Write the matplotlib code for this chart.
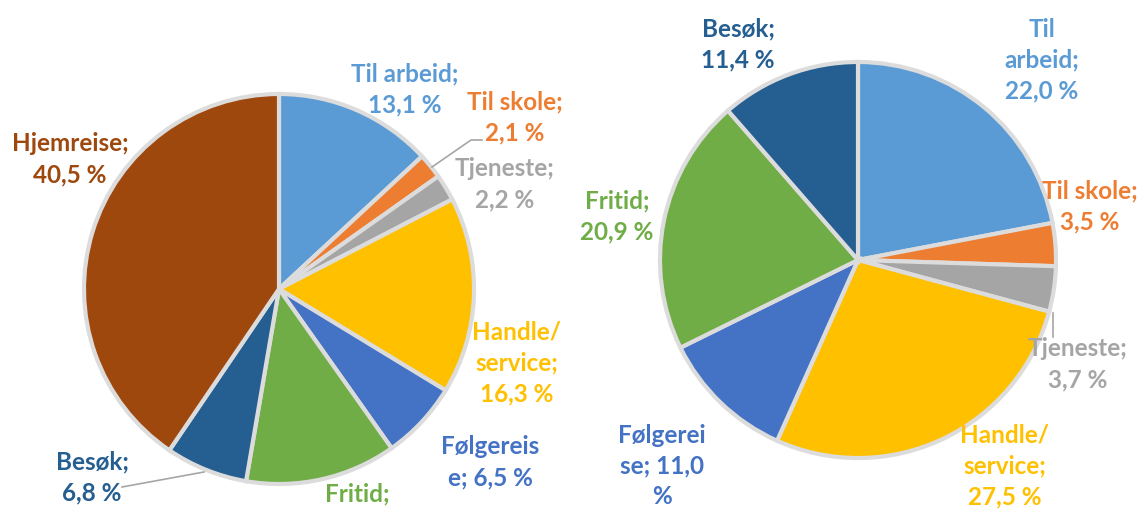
import matplotlib.pyplot as plt

# left pie
left_names = ['Til arbeid', 'Til skole', 'Tjeneste', 'Handle/service', 'Følgereise',
              'Fritid', 'Besøk', 'Hjemreise']
left_vals = [13.1, 2.1, 2.2, 16.3, 6.5, 12.5, 6.8, 40.5]
left_labels = ['Til arbeid;\n13,1 %', 'Til skole;\n2,1 %', 'Tjeneste;\n2,2 %',
               'Handle/\nservice;\n16,3 %', 'Følgereis\ne; 6,5 %', 'Fritid;\n12,5 %',
               'Besøk;\n6,8 %', 'Hjemreise;\n40,5 %']

# right pie
right_names = ['Til arbeid', 'Til skole', 'Tjeneste', 'Handle/service', 'Følgereise',
               'Fritid', 'Besøk']
right_vals = [22.0, 3.5, 3.7, 27.5, 11.0, 20.9, 11.4]
right_labels = ['Til\narbeid;\n22,0 %', 'Til skole;\n3,5 %', 'Tjeneste;\n3,7 %',
                'Handle/\nservice;\n27,5 %', 'Følgerei\nse; 11,0\n%', 'Fritid;\n20,9 %',
                'Besøk;\n11,4 %']

colors = {'Til arbeid': '#5B9BD5', 'Til skole': '#ED7D31', 'Tjeneste': '#A5A5A5',
          'Handle/service': '#FFC000', 'Følgereise': '#4472C4', 'Fritid': '#70AD47',
          'Besøk': '#255E91', 'Hjemreise': '#9E480E'}

W, H = 1141, 509
fig = plt.figure(figsize=(W / 100, H / 100), dpi=100)
ax = fig.add_axes([0, 0, 1, 1])

wp = dict(edgecolor='#DCDCDC', linewidth=3)

ax.pie(left_vals, colors=[colors[n] for n in left_names], startangle=90, counterclock=False,
       center=(279, H - 289), radius=195, explode=[0.03, 0.03, 0.03, 0.045, 0, 0, 0, 0.015],
       wedgeprops=wp, frame=False)
ax.pie(right_vals, colors=[colors[n] for n in right_names], startangle=90, counterclock=False,
       center=(858, H - 260), radius=198, explode=[0.025] * len(right_vals),
       wedgeprops=wp, frame=False)

ax.set_xlim(0, W)
ax.set_ylim(0, H)
ax.set_aspect('auto')
ax.axis('off')

# label positions (pixels from top-left)
left_pos = [(405, 89), (515, 117), (505, 184), (517, 363), (490, 462), (357, 509),
            (92, 477), (70, 159)]
right_pos = [(1042, 60), (1090, 206), (1078, 364), (1005, 466), (662, 466), (617, 216),
             (738, 44)]

txt = dict(fontsize=17.5, fontweight='bold', family=['Lato', 'DejaVu Sans'],
           ha='center', va='center', multialignment='center', linespacing=1.42, zorder=5)

for name, lab, (x, y) in zip(left_names, left_labels, left_pos):
    ax.text(x, H - y, lab, color=colors[name], **txt)
for name, lab, (x, y) in zip(right_names, right_labels, right_pos):
    ax.text(x, H - y, lab, color=colors[name], **txt)

# leader lines
lc = dict(color='#A6A6A6', lw=1.2, zorder=4)
ax.plot([432, 471, 482], [H - 167, H - 140, H - 140], **lc)
ax.plot([204, 122], [H - 472, H - 487], **lc)
ax.plot([1053, 1053], [H - 313, H - 337], **lc)

fig.savefig('out.png', dpi=100)
